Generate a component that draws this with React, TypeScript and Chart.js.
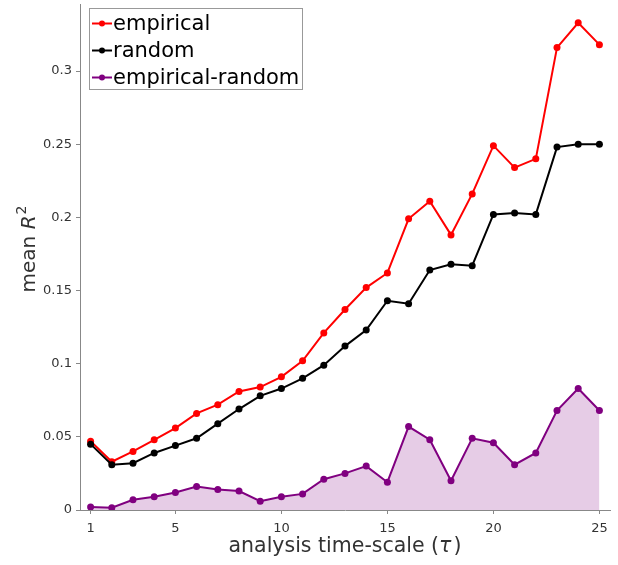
import React, { useEffect, useRef } from "react";
import { Chart, registerables } from "chart.js";

Chart.register(...registerables);

const tau = [1, 2, 3, 4, 5, 6, 7, 8, 9, 10, 11, 12, 13, 14, 15, 16, 17, 18, 19, 20, 21, 22, 23, 24, 25];
const empirical = [0.047, 0.033, 0.040, 0.048, 0.056, 0.066, 0.072, 0.081, 0.084, 0.091, 0.102, 0.121, 0.137, 0.152, 0.162, 0.199, 0.211, 0.188, 0.216, 0.249, 0.234, 0.240, 0.316, 0.333, 0.318];
const random = [0.045, 0.031, 0.032, 0.039, 0.044, 0.049, 0.059, 0.069, 0.078, 0.083, 0.090, 0.099, 0.112, 0.123, 0.143, 0.141, 0.164, 0.168, 0.167, 0.202, 0.203, 0.202, 0.248, 0.250, 0.250];
const diff = [0.002, 0.0015, 0.007, 0.009, 0.012, 0.016, 0.014, 0.013, 0.006, 0.009, 0.011, 0.021, 0.025, 0.030, 0.019, 0.057, 0.048, 0.020, 0.049, 0.046, 0.031, 0.039, 0.068, 0.083, 0.068];
const xTicks = [1, 5, 10, 15, 20, 25];
const yTicks = [0, 0.05, 0.1, 0.15, 0.2, 0.25, 0.3];
const seriesNames = ["empirical", "random", "empirical-random"];
const seriesColors = ["#ff0000", "#000000", "#800080"];

const FONT = "'DejaVu Sans', Verdana, sans-serif";

const titlesAndLegend = {
  id: "titlesAndLegend",
  afterDraw(chart: any) {
    const ctx = chart.ctx as CanvasRenderingContext2D;
    const area = chart.chartArea;
    ctx.save();
    // x title
    ctx.fillStyle = "#333";
    ctx.textBaseline = "alphabetic";
    const p1 = "analysis time-scale (";
    const p2 = "\u03c4";
    const p3 = ")";
    ctx.font = `20.5px ${FONT}`;
    const w1 = ctx.measureText(p1).width;
    const w3 = ctx.measureText(p3).width;
    ctx.font = `italic 20.5px ${FONT}`;
    const w2 = ctx.measureText(p2).width + 2;
    const total = w1 + w2 + w3;
    const x = (area.left + area.right) / 2 - total / 2;
    const by = 552;
    ctx.textAlign = "left";
    ctx.font = `20.5px ${FONT}`;
    ctx.fillText(p1, x, by);
    ctx.font = `italic 20.5px ${FONT}`;
    ctx.fillText(p2, x + w1, by);
    ctx.font = `20.5px ${FONT}`;
    ctx.fillText(p3, x + w1 + w2, by);

    // y title
    ctx.save();
    ctx.translate(35, 249);
    ctx.rotate(-Math.PI / 2);
    const q1 = "mean ";
    const q2 = "R";
    const q3 = "2";
    ctx.font = `20px ${FONT}`;
    const v1 = ctx.measureText(q1).width;
    ctx.font = `italic 20px ${FONT}`;
    const v2 = ctx.measureText(q2).width + 1;
    ctx.font = `14px ${FONT}`;
    const v3 = ctx.measureText(q3).width;
    const tot = v1 + v2 + v3;
    const sx = -tot / 2;
    ctx.font = `20px ${FONT}`;
    ctx.fillText(q1, sx, 0);
    ctx.font = `italic 20px ${FONT}`;
    ctx.fillText(q2, sx + v1, 0);
    ctx.font = `14px ${FONT}`;
    ctx.fillText(q3, sx + v1 + v2, -9);
    ctx.restore();

    // legend
    const lx = area.left + 9;
    const ly = 8.5;
    const lw = 213;
    const lh = 81;
    ctx.fillStyle = "rgba(255,255,255,0.85)";
    ctx.fillRect(lx, ly, lw, lh);
    ctx.strokeStyle = "#999";
    ctx.lineWidth = 1;
    ctx.strokeRect(lx + 0.5, ly, lw, lh);
    ctx.font = `21px ${FONT}`;
    ctx.textBaseline = "middle";
    seriesNames.forEach((name, i) => {
      const cy = ly + 15 + i * 27;
      ctx.strokeStyle = seriesColors[i];
      ctx.lineWidth = 2;
      ctx.beginPath();
      ctx.moveTo(lx + 3, cy);
      ctx.lineTo(lx + 23, cy);
      ctx.stroke();
      ctx.fillStyle = seriesColors[i];
      ctx.beginPath();
      ctx.arc(lx + 13, cy, 3, 0, Math.PI * 2);
      ctx.fill();
      ctx.fillStyle = "#000";
      ctx.fillText(name, lx + 24, cy + 1);
    });
    ctx.restore();
  },
};

export default function App() {
  const ref = useRef<HTMLCanvasElement | null>(null);
  useEffect(() => {
    document.body.style.margin = "0";
    if (!ref.current) return;
    const mk = (arr: number[]) => arr.map((v, i) => ({ x: tau[i], y: v }));
    const chart = new Chart(ref.current, {
      type: "line",
      data: {
        datasets: [
          {
            label: seriesNames[0],
            data: mk(empirical),
            borderColor: seriesColors[0],
            backgroundColor: seriesColors[0],
            borderWidth: 2,
            pointRadius: 3.5,
            pointBorderWidth: 0,
            pointBackgroundColor: seriesColors[0],
            fill: false,
            order: 3,
          },
          {
            label: seriesNames[1],
            data: mk(random),
            borderColor: seriesColors[1],
            backgroundColor: seriesColors[1],
            borderWidth: 2,
            pointRadius: 3.5,
            pointBorderWidth: 0,
            pointBackgroundColor: seriesColors[1],
            fill: false,
            order: 2,
          },
          {
            label: seriesNames[2],
            data: mk(diff),
            borderColor: seriesColors[2],
            backgroundColor: "rgba(128,0,128,0.2)",
            borderWidth: 2,
            pointRadius: 3.5,
            pointBorderWidth: 0,
            pointBackgroundColor: seriesColors[2],
            fill: "origin",
            order: 1,
          },
        ],
      },
      options: {
        animation: false,
        responsive: false,
        maintainAspectRatio: false,
        layout: { padding: { top: 0, right: 8, left: 0, bottom: 0 } },
        plugins: {
          legend: { display: false },
          tooltip: { enabled: false },
          title: { display: false },
        },
        scales: {
          x: {
            type: "linear",
            min: 0.5,
            max: 25.5,
            afterBuildTicks: (s: any) => {
              s.ticks = xTicks.map((v) => ({ value: v }));
            },
            afterFit: (s: any) => {
              s.height = 55;
              s.paddingLeft = 0;
              s.paddingRight = 0;
            },
            grid: { drawOnChartArea: false, drawTicks: true, tickLength: 4, color: "#888" },
            border: { display: true, color: "#888", width: 1 },
            ticks: {
              color: "#333",
              font: { family: FONT, size: 13 },
              padding: 7,
              maxRotation: 0,
              callback: (v: any) => String(v),
            },
          },
          y: {
            type: "linear",
            min: 0,
            max: 0.3458,
            afterBuildTicks: (s: any) => {
              s.ticks = yTicks.map((v) => ({ value: v }));
            },
            afterFit: (s: any) => {
              s.width = 80;
              s.paddingTop = 0;
              s.paddingBottom = 0;
            },
            grid: { drawOnChartArea: false, drawTicks: true, tickLength: 4, color: "#888" },
            border: { display: true, color: "#888", width: 1 },
            ticks: {
              color: "#333",
              font: { family: FONT, size: 13 },
              padding: 4,
              callback: (v: any) => String(Math.round(v * 100) / 100),
            },
          },
        },
      },
      plugins: [titlesAndLegend],
    });
    return () => chart.destroy();
  }, []);
  return (
    <div style={{ width: 618, height: 565, position: "relative" }}>
      <canvas ref={ref} width={618} height={565} style={{ width: 618, height: 565 }} />
    </div>
  );
}
